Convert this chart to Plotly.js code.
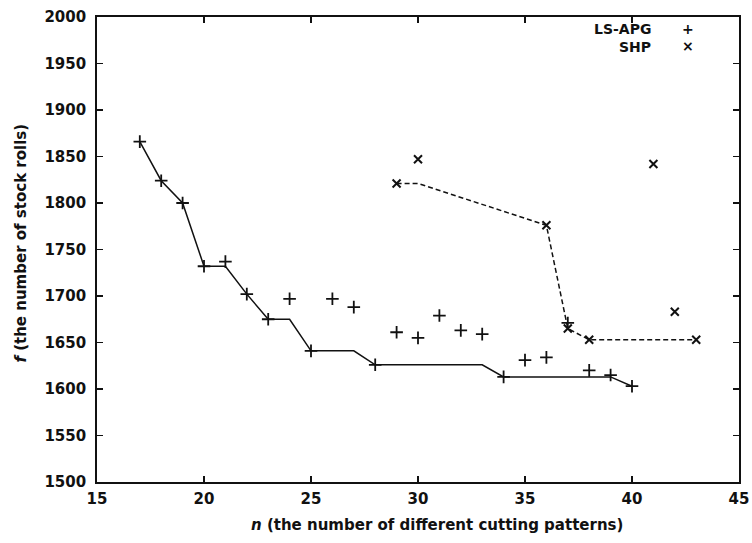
<!DOCTYPE html>
<html>
<head>
<meta charset="utf-8">
<script src="https://cdn.plot.ly/plotly-3.0.1.min.js"></script>
<style>html,body{margin:0;padding:0;background:#fff;}#chart{width:752px;height:543px;}</style>
</head>
<body>
<div id="chart"></div>
<script>
// LS-APG results
var lsN = [17, 18, 19, 20, 21, 22, 23, 24, 25, 26, 27, 28, 29, 30, 31, 32, 33, 34, 35, 36, 37, 38, 39, 40];
var lsF = [1866, 1824, 1800, 1732, 1737, 1702, 1675, 1697, 1641, 1697, 1688, 1626, 1661, 1655, 1679, 1663, 1659, 1613, 1631, 1634, 1671, 1620, 1615, 1603];
// SHP results
var shpN = [29, 30, 36, 37, 38, 41, 42, 43];
var shpF = [1821, 1847, 1776, 1665, 1653, 1842, 1683, 1653];
var xTicks = [15, 20, 25, 30, 35, 40, 45];
var yTicks = [1500, 1550, 1600, 1650, 1700, 1750, 1800, 1850, 1900, 1950, 2000];

function runningMin(arr) {
  var out = [], m = Infinity;
  for (var i = 0; i < arr.length; i++) { m = Math.min(m, arr[i]); out.push(m); }
  return out;
}

var fam = '"DejaVu Sans", "Liberation Sans", Arial, sans-serif';
var tf = {family: fam, size: 15, color: '#111', weight: 'bold'};
var lf = {family: fam, size: 14, color: '#111', weight: 'bold'};

var traces = [
  {x: lsN, y: runningMin(lsF), mode: 'lines', line: {color: '#111', width: 1.5}, showlegend: false, hoverinfo: 'skip'},
  {x: shpN, y: runningMin(shpF), mode: 'lines', line: {color: '#111', width: 1.5, dash: '5px,3px'}, showlegend: false, hoverinfo: 'skip'},
  {x: lsN, y: lsF, mode: 'markers', name: 'LS-APG', marker: {symbol: 'cross-thin', size: 9, line: {color: '#111', width: 1.8}}, showlegend: false},
  {x: shpN, y: shpF, mode: 'markers', name: 'SHP', marker: {symbol: 'x-thin', size: 8, line: {color: '#111', width: 2}}, showlegend: false}
];

var axisCommon = {
  showgrid: false, zeroline: false, showline: true, mirror: 'ticks',
  linecolor: '#111', linewidth: 1.8, ticks: 'inside', ticklen: 6, tickwidth: 1.6, tickcolor: '#111',
  tickfont: tf
};

var layout = {
  width: 752, height: 543,
  margin: {l: 97, r: 13, t: 17, b: 61},
  paper_bgcolor: '#fff', plot_bgcolor: '#fff',
  font: tf,
  showlegend: false,
  xaxis: Object.assign({}, axisCommon, {
    range: [15, 45], tickvals: xTicks, ticktext: xTicks.map(String), ticklabelstandoff: 2
  }),
  yaxis: Object.assign({}, axisCommon, {
    range: [1500, 2000], tickvals: yTicks, ticktext: yTicks.map(String), ticklabelstandoff: 6
  }),
  annotations: [
    {xref: 'paper', yref: 'paper', x: 0.53, y: -0.093, xanchor: 'center', yanchor: 'middle', text: '<i>n</i> (the number of different cutting patterns)', showarrow: false, font: tf},
    {xref: 'paper', yref: 'paper', x: -0.119, y: 0.514, xanchor: 'center', yanchor: 'middle', textangle: -90, text: '<i>f</i> (the number of stock rolls)', showarrow: false, font: tf},
    {xref: 'paper', yref: 'paper', x: 0.865, y: 0.974, xanchor: 'right', yanchor: 'middle', text: 'LS-APG', showarrow: false, font: lf, borderpad: 0},
    {xref: 'paper', yref: 'paper', x: 0.865, y: 0.936, xanchor: 'right', yanchor: 'middle', text: 'SHP', showarrow: false, font: lf, borderpad: 0},
    {xref: 'paper', yref: 'paper', x: 0.92, y: 0.975, xanchor: 'center', yanchor: 'middle', text: '+', showarrow: false, font: lf, borderpad: 0},
    {xref: 'paper', yref: 'paper', x: 0.92, y: 0.937, xanchor: 'center', yanchor: 'middle', text: '×', showarrow: false, font: lf, borderpad: 0}
  ]
};

Plotly.newPlot('chart', traces, layout, {staticPlot: true, displayModeBar: false});
</script>
</body>
</html>
